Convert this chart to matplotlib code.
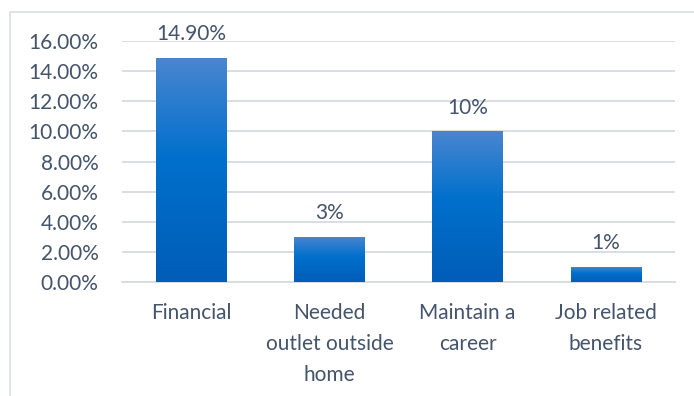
import numpy as np
import matplotlib
matplotlib.use('Agg')
import matplotlib.pyplot as plt
from matplotlib.colors import LinearSegmentedColormap
from matplotlib.patches import Rectangle

categories = ['Financial', 'Needed\noutlet outside\nhome', 'Maintain a\ncareer', 'Job related\nbenefits']
values = [14.9, 3, 10, 1]
value_labels = ['14.90%', '3%', '10%', '1%']
yticks = [0, 2, 4, 6, 8, 10, 12, 14, 16]

plt.rcParams['font.family'] = ['Lato', 'DejaVu Sans']
text_col = '#44546A'
grid_col = '#D9DDE3'
fs = 15

fig = plt.figure(figsize=(6.94, 3.96), dpi=100)
ax = fig.add_axes([122/694, 114/396, (675-122)/694, (282-41)/396])

# outer chart border
fig.patches.append(Rectangle((10/694, -0.1), 1.0, (396-12)/396 + 0.1,
                             transform=fig.transFigure, fill=False,
                             edgecolor='#D9DDE3', linewidth=1.2))

# vertical gradient for the bars (light at top, dark at bottom)
cmap = LinearSegmentedColormap.from_list('bar', [(0.0, '#005DB8'), (0.55, '#0070CC'), (1.0, '#4A86D0')])
grad = np.linspace(0, 1, 256).reshape(-1, 1)

x = np.arange(len(categories))
width = 0.51
bars = ax.bar(x, values, width=width, color='none', zorder=3)
for b in bars:
    x0, y0 = b.get_x(), b.get_y()
    im = ax.imshow(grad, cmap=cmap, aspect='auto', origin='lower',
                   extent=[x0, x0 + b.get_width(), y0, y0 + b.get_height()], zorder=3)
    im.set_clip_path(b)

for xi, v, lab in zip(x, values, value_labels):
    ax.text(xi, v + 0.9, lab, ha='center', va='bottom', fontsize=fs, color=text_col, clip_on=False)

ax.set_xlim(-0.5, len(categories) - 0.5)
ax.set_ylim(0, 16)
ax.set_yticks(yticks)
ax.set_yticklabels(['%.2f%%' % t for t in yticks])
ax.set_xticks(x)
ax.set_xticklabels(categories, linespacing=1.68)
ax.tick_params(axis='y', length=0, pad=17, labelsize=fs, labelcolor=text_col)
ax.tick_params(axis='x', length=0, pad=15, labelsize=fs, labelcolor=text_col)
for lbl in ax.get_xticklabels():
    lbl.set_va('top')

ax.grid(axis='y', color=grid_col, linewidth=1.4, zorder=0)
ax.set_axisbelow(True)
for s in ['top', 'right', 'left']:
    ax.spines[s].set_visible(False)
ax.spines['bottom'].set_color(grid_col)
ax.spines['bottom'].set_linewidth(1.4)

fig.savefig('out.png', dpi=100)
